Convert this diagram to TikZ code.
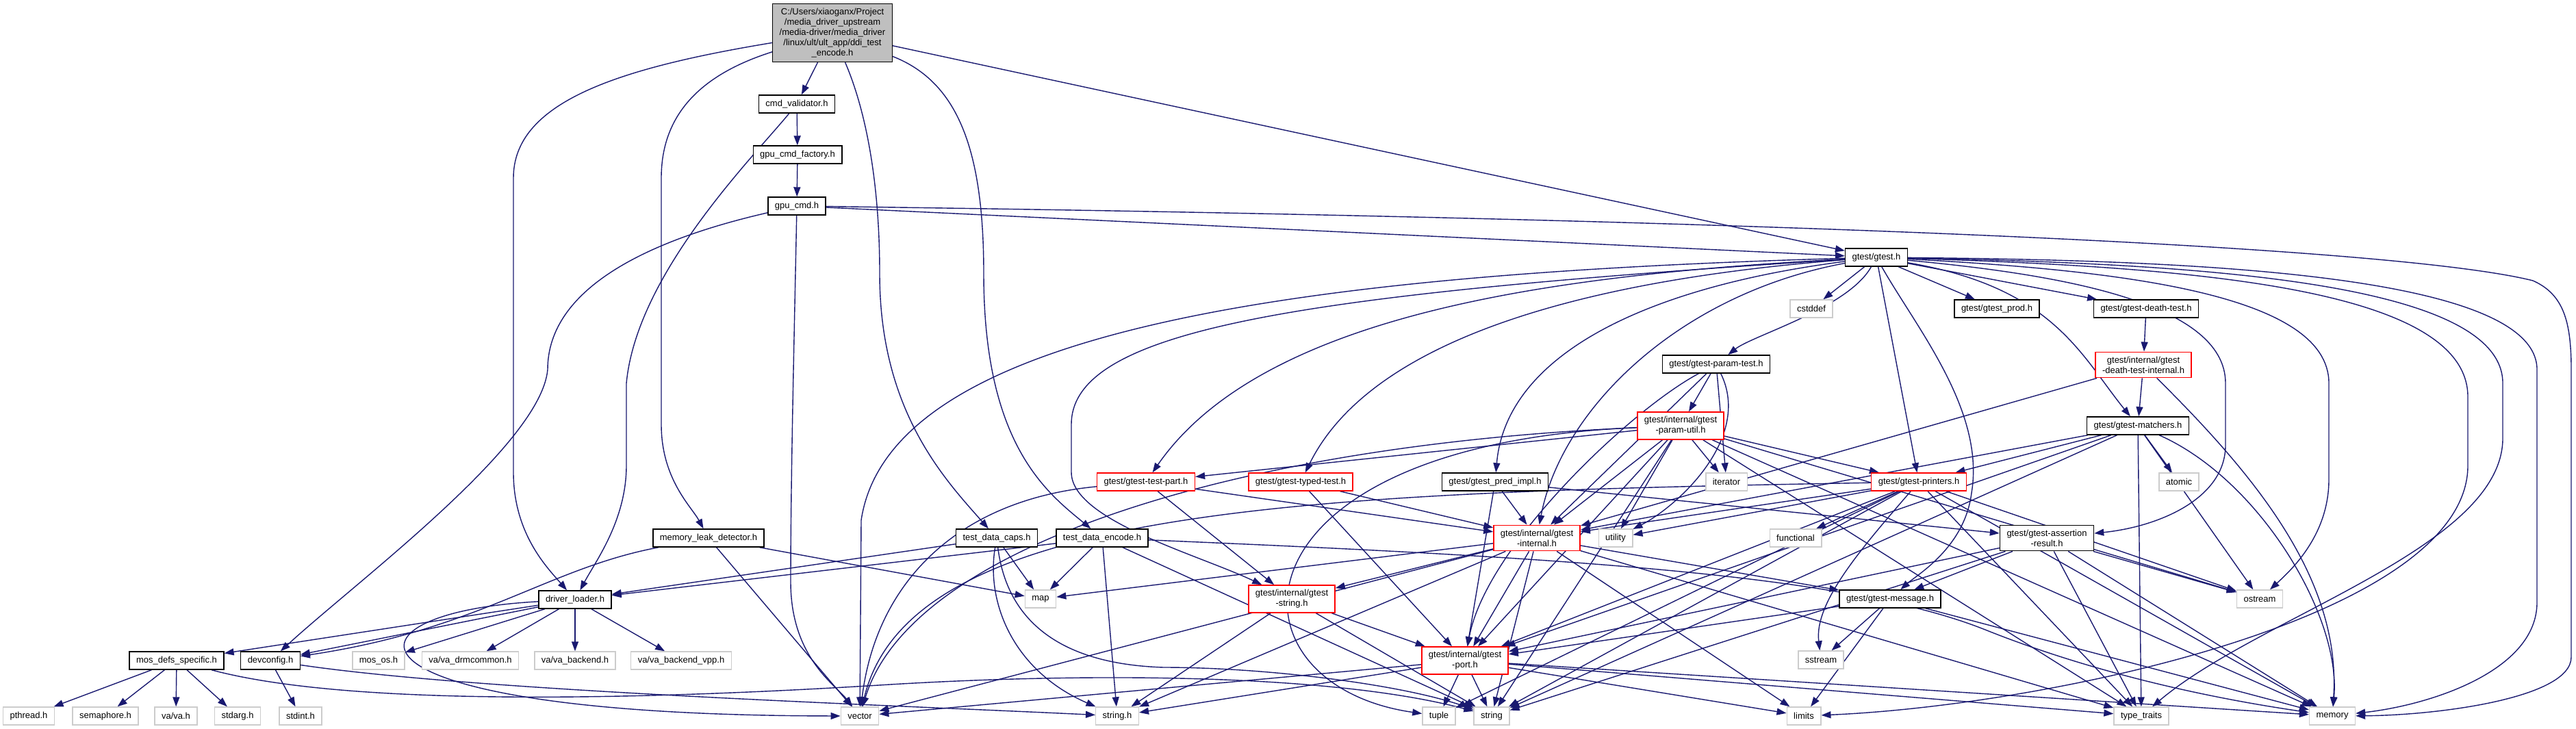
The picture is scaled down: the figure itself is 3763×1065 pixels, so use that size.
\documentclass[tikz,border=0pt]{standalone}
\usepackage{fontspec}
\setmainfont{Liberation Sans}
\usepackage{xcolor}
\usepackage{tikz}
\usetikzlibrary{arrows.meta, backgrounds}
\definecolor{midnight}{RGB}{25,25,112}

\begin{document}
\begin{tikzpicture}[x=1pt, y=-1pt, font=\fontsize{13}{15}\selectfont, >={Triangle[length=14pt, width=10pt]},
  hd/.style={draw, fill=white, line width=1.4pt, align=center, inner xsep=10pt, inner ysep=6.5pt, minimum height=26pt},
  tr/.style={hd, draw=red},
  sys/.style={hd, draw=gray!40},
  rootf/.style={hd, fill=gray!50},
  ln/.style={->, color=midnight, line width=1.4pt}]
\useasboundingbox (0,0) rectangle (3763,1065);
\node[rootf] (root) at (1216,48) {C:/Users/xiaoganx/Project\\/media\_driver\_upstream\\/media-driver/media\_driver\\/linux/ult/ult\_app/ddi\_test\\\_encode.h};
\node[hd] (cmdval) at (1164,152) {cmd\_validator.h};
\node[hd] (gpufac) at (1165,226) {gpu\_cmd\_factory.h};
\node[hd] (gpucmd) at (1164,301) {gpu\_cmd.h};
\node[hd] (gtest) at (2741,376) {gtest/gtest.h};
\node[sys] (cstddef) at (2646,451) {cstddef};
\node[hd] (prod) at (2917,451) {gtest/gtest\_prod.h};
\node[hd] (death) at (3135,451) {gtest/gtest-death-test.h};
\node[tr] (deathint) at (3131,533) {gtest/internal/gtest\\-death-test-internal.h};
\node[hd] (ptest) at (2507,532) {gtest/gtest-param-test.h};
\node[tr] (putil) at (2455,622) {gtest/internal/gtest\\-param-util.h};
\node[hd] (matchers) at (3123,622) {gtest/gtest-matchers.h};
\node[tr] (testpart) at (1674,704) {gtest/gtest-test-part.h};
\node[tr] (typed) at (1900,704) {gtest/gtest-typed-test.h};
\node[hd] (pred) at (2184,704) {gtest/gtest\_pred\_impl.h};
\node[sys] (iterator) at (2522,704) {iterator};
\node[tr] (printers) at (2803,704) {gtest/gtest-printers.h};
\node[sys] (atomic) at (3183,704) {atomic};
\node[hd] (leak) at (1035,786) {memory\_leak\_detector.h};
\node[hd] (caps) at (1456,786) {test\_data\_caps.h};
\node[hd] (enc) at (1610,786) {test\_data\_encode.h};
\node[tr] (internal) at (2245,786) {gtest/internal/gtest\\-internal.h};
\node[sys] (utility) at (2360,786) {utility};
\node[sys] (functional) at (2623,786) {functional};
\node[hd] (assertres) at (2990,786) {gtest/gtest-assertion\\-result.h};
\node[hd] (loader) at (840,876) {driver\_loader.h};
\node[sys] (map) at (1520,875) {map};
\node[tr] (gstring) at (1887,875) {gtest/internal/gtest\\-string.h};
\node[hd] (message) at (2761,875) {gtest/gtest-message.h};
\node[sys] (ostream) at (3301,875) {ostream};
\node[hd] (mosdefs) at (258,965) {mos\_defs\_specific.h};
\node[hd] (devcfg) at (395,965) {devconfig.h};
\node[sys] (mosos) at (553,965) {mos\_os.h};
\node[sys] (vadrm) at (687,965) {va/va\_drmcommon.h};
\node[sys] (vaback) at (840,965) {va/va\_backend.h};
\node[sys] (vavpp) at (995,965) {va/va\_backend\_vpp.h};
\node[tr] (port) at (2140,965) {gtest/internal/gtest\\-port.h};
\node[sys] (sstream) at (2660,964) {sstream};
\node[sys] (pthread) at (42,1046) {pthread.h};
\node[sys] (semaphore) at (154,1046) {semaphore.h};
\node[sys] (vava) at (257,1046) {va/va.h};
\node[sys] (stdarg) at (347,1046) {stdarg.h};
\node[sys] (stdint) at (439,1046) {stdint.h};
\node[sys] (vector) at (1256,1046) {vector};
\node[sys] (stringh) at (1632,1046) {string.h};
\node[sys] (tuple) at (2102,1046) {tuple};
\node[sys] (string) at (2179,1046) {string};
\node[sys] (limits) at (2635,1046) {limits};
\node[sys] (traits) at (3128,1046) {type\_traits};
\node[sys] (memory) at (3407,1046) {memory};
\begin{scope}[on background layer]
\begin{scope}[ln]
\draw (root)--(cmdval);
\draw (root) .. controls (900,100) and (750,150) .. (750,260) -- (750,690) .. controls (750,780) and (800,830) .. (loader);
\draw (root) .. controls (1020,110) and (966,170) .. (966,260) -- (966,620) .. controls (966,700) and (1010,740) .. (leak);
\draw (root) .. controls (1260,150) and (1285,250) .. (1285,400) .. controls (1285,600) and (1380,700) .. (caps);
\draw (root) .. controls (1400,120) and (1437,220) .. (1437,400) .. controls (1437,650) and (1530,720) .. (enc);
\draw (root)--(gtest);
\draw (cmdval)--(gpufac);
\draw (cmdval) .. controls (1100,230) and (930,400) .. (915,560) -- (915,680) .. controls (915,760) and (870,820) .. (loader);
\draw (gpufac)--(gpucmd);
\draw (gpucmd) .. controls (950,350) and (800,420) .. (800,540) .. controls (790,650) and (520,850) .. (devcfg);
\draw (gpucmd) .. controls (1160,500) and (1155,700) .. (1155,850) .. controls (1155,960) and (1220,1000) .. (vector);
\draw (gpucmd)--(gtest);
\draw (gpucmd) .. controls (2600,320) and (3500,360) .. (3700,410) .. controls (3745,430) and (3756,470) .. (3756,540) -- (3756,960) .. controls (3756,1020) and (3560,1045) .. (memory);
\draw (leak)--(vector);
\draw (leak)--(map);
\draw (leak) .. controls (800,830) and (700,920) .. (devcfg);
\draw (caps)--(loader);
\draw (caps)--(map);
\draw (caps) .. controls (1440,880) and (1480,980) .. (stringh);
\draw (caps) .. controls (1470,900) and (1540,970) .. (1700,975) .. controls (1850,975) and (2050,1000) .. (string);
\draw (enc)--(loader);
\draw (enc)--(map);
\draw (enc)--(stringh);
\draw (enc)--(string);
\draw (enc) .. controls (2300,815) and (2700,840) .. (2900,920) .. controls (3100,1000) and (3300,1030) .. (memory);
\draw (loader)--(mosdefs);
\draw (loader)--(devcfg);
\draw (loader)--(mosos);
\draw (loader)--(vadrm);
\draw (loader)--(vaback);
\draw (loader)--(vavpp);
\draw (loader) .. controls (480,895) and (470,1045) .. (vector);
\draw (mosdefs)--(pthread);
\draw (mosdefs)--(semaphore);
\draw (mosdefs)--(vava);
\draw (mosdefs)--(stdarg);
\draw (mosdefs) .. controls (500,1030) and (900,1025) .. (1300,1000) .. controls (1600,982) and (1950,985) .. (string);
\draw (devcfg)--(stdint);
\draw (devcfg) .. controls (700,1010) and (1300,1030) .. (stringh);
\draw (gtest)--(cstddef);
\draw (gtest)--(prod);
\draw (gtest)--(death);
\draw (gtest) .. controls (2700,450) and (2560,490) .. (ptest);
\draw (gtest)--(printers);
\draw (gtest) .. controls (2800,480) and (2900,600) .. (2880,720) .. controls (2870,800) and (2800,840) .. (message);
\draw (gtest) .. controls (3000,420) and (3040,520) .. (matchers);
\draw (gtest) .. controls (3000,400) and (3251,440) .. (3251,560) -- (3251,650) .. controls (3251,730) and (3150,770) .. (assertres);
\draw (gtest) .. controls (3100,395) and (3402,430) .. (3402,560) -- (3402,700) .. controls (3402,780) and (3350,830) .. (ostream);
\draw (gtest) .. controls (3200,390) and (3605,420) .. (3605,580) -- (3605,680) .. controls (3605,900) and (3000,1030) .. (limits);
\draw (gtest) .. controls (3200,385) and (3656,410) .. (3656,560) -- (3656,640) .. controls (3656,800) and (3300,900) .. (traits);
\draw (gtest) .. controls (3200,380) and (3706,400) .. (3706,540) -- (3706,880) .. controls (3706,980) and (3550,1030) .. (memory);
\draw (gtest) .. controls (2300,400) and (1850,450) .. (testpart);
\draw (gtest) .. controls (2300,410) and (2000,500) .. (typed);
\draw (gtest) .. controls (2400,420) and (2200,520) .. (pred);
\draw (gtest) .. controls (2450,430) and (2280,600) .. (internal);
\draw (gtest) .. controls (1900,430) and (1565,480) .. (1565,620) -- (1565,690) .. controls (1565,760) and (1750,810) .. (gstring);
\draw (gtest) .. controls (1900,400) and (1300,480) .. (1258,760) -- (vector);
\draw (death)--(deathint);
\draw (deathint)--(matchers);
\draw (deathint)--(internal);
\draw (deathint) .. controls (3300,700) and (3420,850) .. (memory);
\draw (ptest)--(putil);
\draw (ptest)--(internal);
\draw (ptest) .. controls (2380,600) and (2170,800) .. (port);
\draw (ptest)--(iterator);
\draw (ptest) .. controls (2560,640) and (2450,740) .. (utility);
\draw (putil)--(iterator);
\draw (putil)--(utility);
\draw (putil)--(internal);
\draw (putil)--(port);
\draw (putil)--(printers);
\draw (putil)--(testpart);
\draw (putil) .. controls (1800,650) and (1330,800) .. (vector);
\draw (putil) .. controls (1780,650) and (1780,1000) .. (tuple);
\draw (putil)--(string);
\draw (putil)--(memory);
\draw (putil)--(ostream);
\draw (putil)--(traits);
\draw (testpart)--(internal);
\draw (testpart)--(gstring);
\draw (testpart) .. controls (1400,730) and (1280,850) .. (vector);
\draw (typed)--(internal);
\draw (typed)--(port);
\draw (pred)--(assertres);
\draw (pred)--(internal);
\draw (pred)--(port);
\draw (internal)--(map);
\draw (internal)--(stringh);
\draw (internal)--(limits);
\draw (internal)--(string);
\draw (internal)--(traits);
\draw (internal)--(vector);
\draw (internal)--(message);
\draw (internal)--(port);
\draw (internal)--(gstring);
\draw (gstring)--(stringh);
\draw (gstring)--(string);
\draw (gstring)--(port);
\draw (port)--(stringh);
\draw (port)--(limits);
\draw (port)--(memory);
\draw (port)--(string);
\draw (port)--(tuple);
\draw (port)--(traits);
\draw (port)--(vector);
\draw (printers)--(functional);
\draw (printers)--(memory);
\draw (printers)--(ostream);
\draw (printers) .. controls (2720,800) and (2650,880) .. (sstream);
\draw (printers)--(string);
\draw (printers)--(tuple);
\draw (printers)--(traits);
\draw (printers)--(utility);
\draw (printers) .. controls (1900,720) and (1330,740) .. (vector);
\draw (printers)--(internal);
\draw (printers)--(port);
\draw (matchers)--(atomic);
\draw (matchers) .. controls (3300,700) and (3420,900) .. (memory);
\draw (matchers)--(ostream);
\draw (matchers)--(string);
\draw (matchers)--(traits);
\draw (matchers)--(printers);
\draw (matchers)--(internal);
\draw (matchers)--(port);
\draw (assertres)--(message);
\draw (assertres)--(ostream);
\draw (assertres)--(memory);
\draw (assertres)--(traits);
\draw (assertres)--(string);
\draw (assertres)--(port);
\draw (message)--(sstream);
\draw (message)--(limits);
\draw (message)--(memory);
\draw (message)--(port);
\end{scope}
\end{scope}
\end{tikzpicture}
\end{document}
